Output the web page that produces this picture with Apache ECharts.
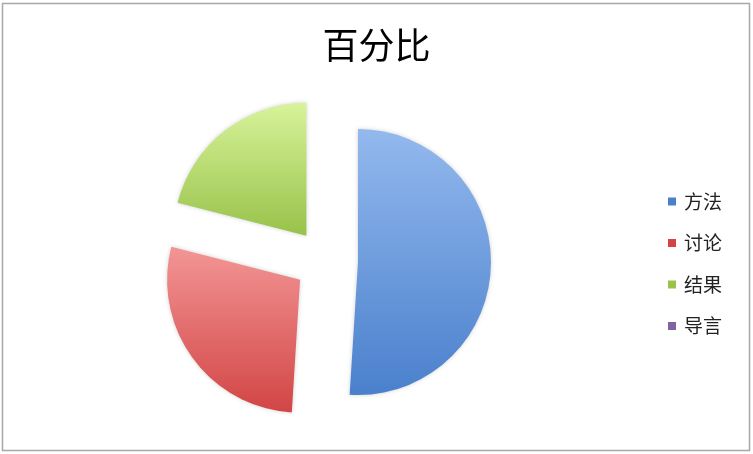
<!DOCTYPE html>
<html><head><meta charset="utf-8">
<script src="https://cdn.jsdelivr.net/npm/echarts@6/dist/echarts.min.js"></script>
<style>html,body{margin:0;padding:0;background:#fff}#c{width:753px;height:454px}</style>
</head><body><div id="c"></div>
<script>
const titleText = '百分比';
const categories = ['方法', '讨论', '结果', '导言'];
const values = [51, 28, 21, 0];
const colorsTop = ['#93b9ee', '#f39595', '#d8f39a', '#a48fd0'];
const colorsBottom = ['#4a80cc', '#d24545', '#98c24a', '#8064a2'];

const chart = echarts.init(document.getElementById('c'));
const data = categories.map((name, i) => ({
  name: name,
  value: values[i],
  selected: true,
  itemStyle: {
    color: new echarts.graphic.LinearGradient(0, 0, 0, 1, [
      { offset: 0, color: colorsTop[i] },
      { offset: 1, color: colorsBottom[i] }
    ])
  }
}));
chart.setOption({
  animation: false,
  title: {
    text: titleText, left: 'center', top: 22,
    textStyle: { fontSize: 36, fontWeight: 'normal', color: '#000', fontFamily: 'Noto Sans CJK SC' }
  },
  legend: {
    orient: 'vertical', left: 663, top: 187,
    itemWidth: 8, itemHeight: 8, itemGap: 22.5, icon: 'rect',
    textStyle: { fontSize: 19, color: '#222', fontFamily: 'Noto Sans CJK SC', padding: [0, 0, 0, 3] },
    data: categories.map((n, i) => ({ name: n, itemStyle: { color: colorsBottom[i] } })),
    selectedMode: false
  },
  graphic: [{
    type: 'rect', silent: true,
    shape: { x: 2.5, y: 3.5, width: 747, height: 447 },
    style: { fill: 'none', stroke: '#a8a8a8', lineWidth: 1.5 }
  }],
  series: [{
    type: 'pie',
    center: [326, 261],
    radius: 133,
    startAngle: 90,
    clockwise: true,
    selectedMode: 'multiple',
    selectedOffset: 32,
    label: { show: false },
    labelLine: { show: false },
    emphasis: { disabled: true },
    itemStyle: { borderWidth: 0, shadowBlur: 4, shadowColor: 'rgba(0,0,0,0.18)' },
    data: data
  }]
});
</script></body></html>
